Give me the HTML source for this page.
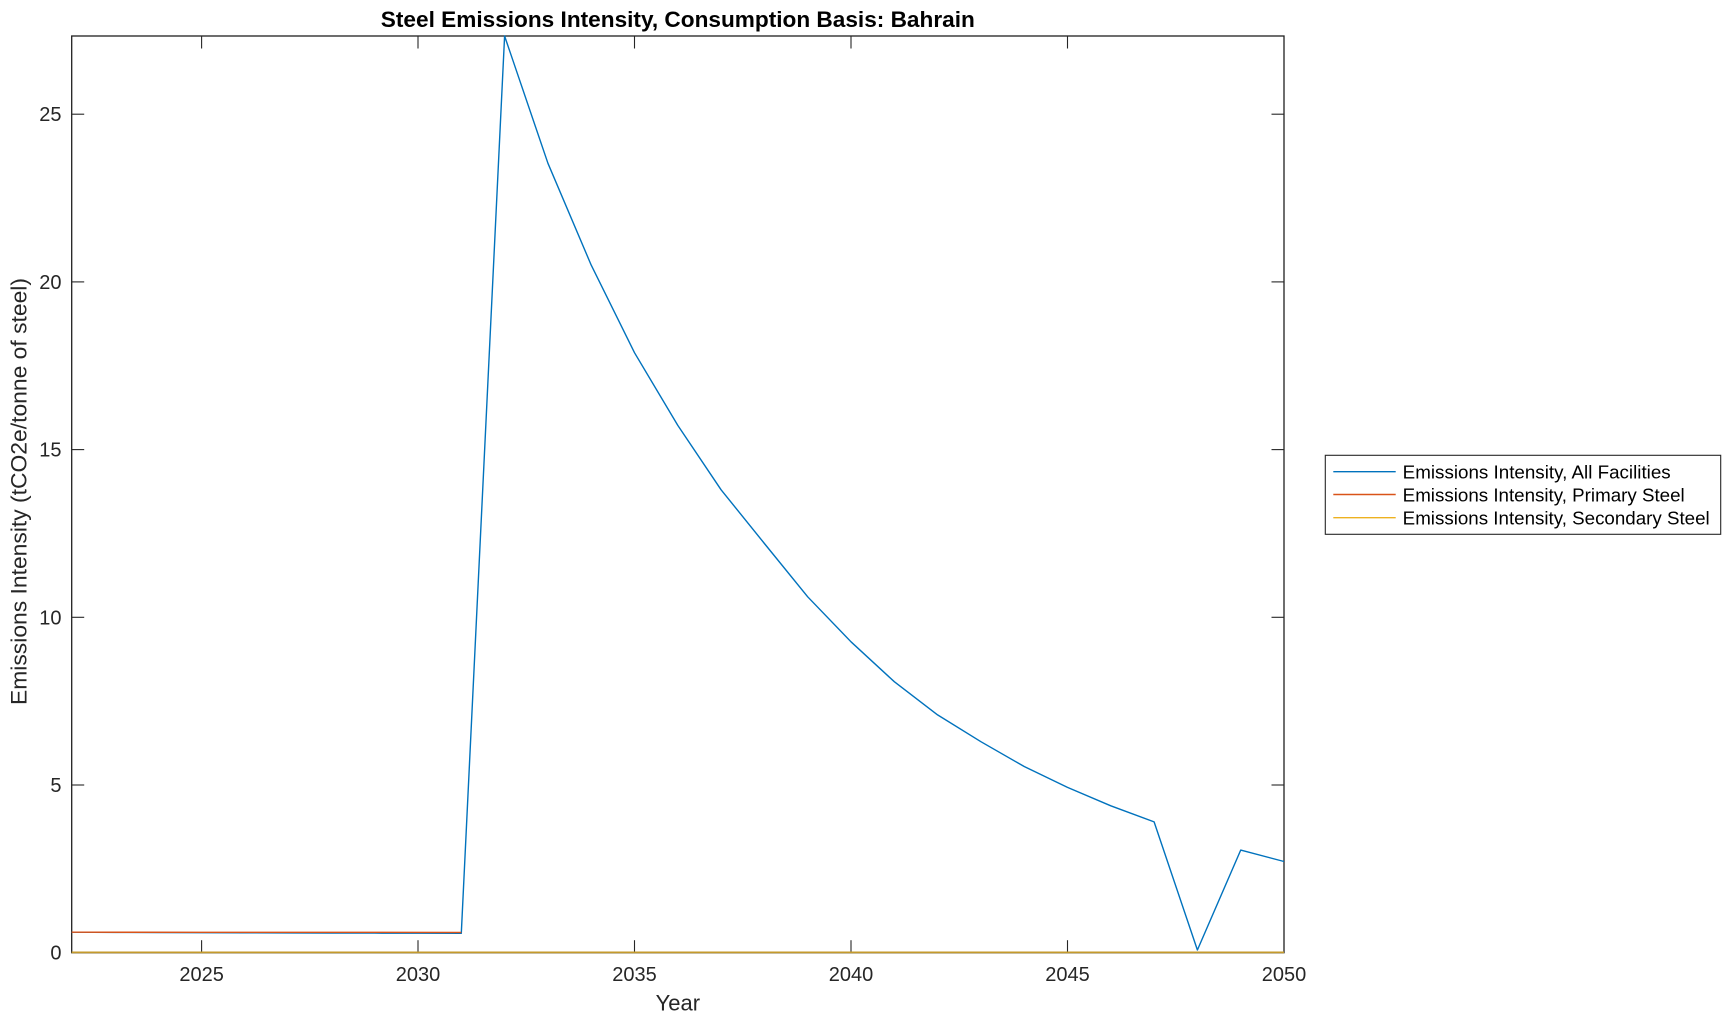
<!DOCTYPE html>
<html>
<head>
<meta charset="utf-8">
<style>
  html, body { margin:0; padding:0; background:#ffffff; }
  svg { display:block; }
  text { font-family: "Liberation Sans", Arial, Helvetica, sans-serif; }
</style>
</head>
<body>
<svg width="1731" height="1021" viewBox="0 0 1731 1021" xmlns="http://www.w3.org/2000/svg">
  <rect x="0" y="0" width="1731" height="1021" fill="#ffffff"/>

  <!-- Title -->
  <text x="677.8" y="27" text-anchor="middle" font-size="22" font-weight="bold" fill="#000000" textLength="594" lengthAdjust="spacingAndGlyphs">Steel Emissions Intensity, Consumption Basis: Bahrain</text>

  <!-- Axes box -->
  <rect x="71.7" y="36" width="1212.3" height="916.7" fill="#ffffff" stroke="#1f1f1f" stroke-width="1.3"/>

  <!-- Ticks -->
  <g stroke="#262626" stroke-width="1.1">
    <line x1="201.6" y1="952.7" x2="201.6" y2="940.2"/><line x1="201.6" y1="36" x2="201.6" y2="48.5"/>
    <line x1="418.0" y1="952.7" x2="418.0" y2="940.2"/><line x1="418.0" y1="36" x2="418.0" y2="48.5"/>
    <line x1="634.5" y1="952.7" x2="634.5" y2="940.2"/><line x1="634.5" y1="36" x2="634.5" y2="48.5"/>
    <line x1="851.0" y1="952.7" x2="851.0" y2="940.2"/><line x1="851.0" y1="36" x2="851.0" y2="48.5"/>
    <line x1="1067.5" y1="952.7" x2="1067.5" y2="940.2"/><line x1="1067.5" y1="36" x2="1067.5" y2="48.5"/>
    <line x1="71.7" y1="785.0" x2="84.2" y2="785.0"/><line x1="1284" y1="785.0" x2="1271.5" y2="785.0"/>
    <line x1="71.7" y1="617.3" x2="84.2" y2="617.3"/><line x1="1284" y1="617.3" x2="1271.5" y2="617.3"/>
    <line x1="71.7" y1="449.6" x2="84.2" y2="449.6"/><line x1="1284" y1="449.6" x2="1271.5" y2="449.6"/>
    <line x1="71.7" y1="281.9" x2="84.2" y2="281.9"/><line x1="1284" y1="281.9" x2="1271.5" y2="281.9"/>
    <line x1="71.7" y1="114.2" x2="84.2" y2="114.2"/><line x1="1284" y1="114.2" x2="1271.5" y2="114.2"/>
  </g>

  <!-- X tick labels -->
  <g font-size="20" fill="#262626" text-anchor="middle">
    <text x="201.6" y="981">2025</text>
    <text x="418.0" y="981">2030</text>
    <text x="634.5" y="981">2035</text>
    <text x="851.0" y="981">2040</text>
    <text x="1067.5" y="981">2045</text>
    <text x="1284.0" y="981">2050</text>
  </g>

  <!-- Y tick labels -->
  <g font-size="20" fill="#262626" text-anchor="end">
    <text x="61.5" y="959.7">0</text>
    <text x="61.5" y="792.0">5</text>
    <text x="61.5" y="624.3">10</text>
    <text x="61.5" y="456.6">15</text>
    <text x="61.5" y="288.9">20</text>
    <text x="61.5" y="121.2">25</text>
  </g>

  <!-- Axis labels -->
  <text x="677.8" y="1010.7" text-anchor="middle" font-size="22" fill="#262626">Year</text>
  <text transform="translate(26.7,491.5) rotate(-90)" x="0" y="0" text-anchor="middle" font-size="22" fill="#262626" textLength="427" lengthAdjust="spacingAndGlyphs">Emissions Intensity (tCO2e/tonne of steel)</text>

  <!-- Series: All Facilities (blue) -->
  <polyline fill="none" stroke="#0072BD" stroke-width="1.4" stroke-linejoin="round"
    points="71.7,932.2 115.0,932.4 158.3,932.6 201.6,932.7 244.9,932.8 288.2,932.9 331.5,933.0 374.8,933.1 418.0,933.2 461.3,933.3 504.6,36.0 547.9,163.2 591.2,265.1 634.5,352.7 677.8,425.4 721.1,489.8 764.4,543.5 807.7,596.8 851.0,641.8 894.3,681.7 937.6,714.9 980.9,741.7 1024.2,766.5 1067.5,787.4 1110.8,805.8 1154.1,821.9 1197.4,950.0 1240.7,850.1 1284.0,861.5"/>

  <!-- Series: Primary Steel (red) -->
  <polyline fill="none" stroke="#D95319" stroke-width="1.4" stroke-linejoin="round"
    points="71.7,932.2 201.6,932.3 331.5,932.3 461.3,932.4"/>

  <!-- Series: Secondary Steel (yellow) -->
  <line x1="71.7" y1="952.4" x2="1284" y2="952.4" stroke="#C49A2C" stroke-width="1.7"/>

  <!-- Legend -->
  <rect x="1325.3" y="455.3" width="395.4" height="79" fill="#ffffff" stroke="#262626" stroke-width="1.1"/>
  <line x1="1333.3" y1="471.7" x2="1395.7" y2="471.7" stroke="#0072BD" stroke-width="1.4"/>
  <line x1="1333.3" y1="494.5" x2="1395.7" y2="494.5" stroke="#D95319" stroke-width="1.4"/>
  <line x1="1333.3" y1="517.7" x2="1395.7" y2="517.7" stroke="#EDB120" stroke-width="1.4"/>
  <g font-size="18.6" fill="#000000">
    <text x="1402.7" y="478.3" textLength="268" lengthAdjust="spacingAndGlyphs">Emissions Intensity, All Facilities</text>
    <text x="1402.7" y="501.3" textLength="282" lengthAdjust="spacingAndGlyphs">Emissions Intensity, Primary Steel</text>
    <text x="1402.7" y="524.5" textLength="307" lengthAdjust="spacingAndGlyphs">Emissions Intensity, Secondary Steel</text>
  </g>
</svg>
</body>
</html>
